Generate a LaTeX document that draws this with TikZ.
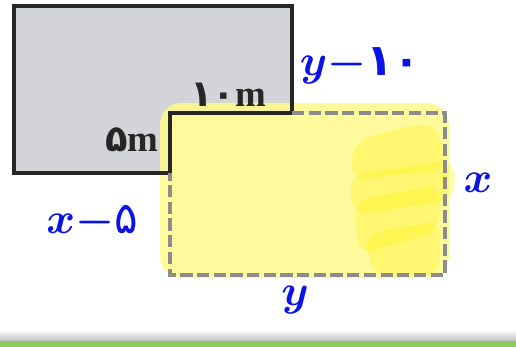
\documentclass[tikz,border=0pt]{standalone}
\usepackage{fontspec}
\newfontfamily\arabicfont[Script=Arabic]{DejaVu Sans}
\newfontfamily\timesfont{Liberation Serif}
\usetikzlibrary{calc,positioning}
\definecolor{plotgray}{HTML}{D3D4D7}
\definecolor{hiyellow}{HTML}{FFF98A}
\definecolor{hideep}{HTML}{FFF200}
\definecolor{inkblue}{HTML}{0A14E6}
\definecolor{bargreen}{HTML}{8CCB5E}

\begin{document}
\begin{tikzpicture}[x=0.02cm,y=-0.02cm,every node/.style={inner sep=0pt},
  ink/.style={text=inkblue,font=\fontsize{25}{27}\selectfont\boldmath},
  dimtext/.style={text=black!85,font=\fontsize{21}{24}\selectfont\bfseries},
  patch/.style={fill=hideep,opacity=.28,rounded corners=9pt}]
\useasboundingbox (0,0) rectangle (516,347);
\coordinate (a) at (14,6);\coordinate (b) at (292,6);
\coordinate (c) at (292,113);\coordinate (d) at (170,113);
\coordinate (e) at (170,173);\coordinate (f) at (14,173);
\coordinate (g) at (445,113);\coordinate (h) at (445,275);
\coordinate (k) at (170,275);
\fill[plotgray] (a)--(b)--(c)--(d)--(e)--(f)--cycle;
% highlighter
\fill[hiyellow,opacity=.85,rounded corners=12pt] (160,103) rectangle (449,278);
\fill[patch] (355,140)--(425,122)--(440,130)--(445,170)--(350,180)--cycle;
\fill[patch] (350,175)--(455,160)--(455,200)--(352,215)--cycle;
\fill[patch] (355,200)--(440,185)--(440,230)--(358,255)--cycle;
\fill[patch] (365,235)--(440,220)--(440,275)--(372,275)--cycle;
\draw[line width=2.2pt,black!85] (a)--(b)--(c)--(d)--(e)--(f)--cycle;
\draw[line width=2.2pt,black!45,dash pattern=on 7pt off 2.5pt] (c)--(g)--(h)--(k)--(e);
\node[dimtext] (lblTen) at (228,95) {{\arabicfont ۱۰}{\timesfont m}};
\node[dimtext] (lblFive) at (132,140) {{\arabicfont ۵}{\timesfont m}};
\node[ink] (lblYTen) at (360,66) {$y-${\arabicfont\bfseries ۱۰}};
\node[ink] (lblX) at (478,183) {$x$};
\node[ink] (lblXFive) at (92,222) {$x-${\arabicfont ۵}};
\node[ink] (lblY) at (295,300) {$y$};
% bottom bar
\shade[top color=white,bottom color=black!25] (0,330) rectangle (516,341);
\fill[bargreen] (0,341) rectangle (516,347);
\end{tikzpicture}
\end{document}
